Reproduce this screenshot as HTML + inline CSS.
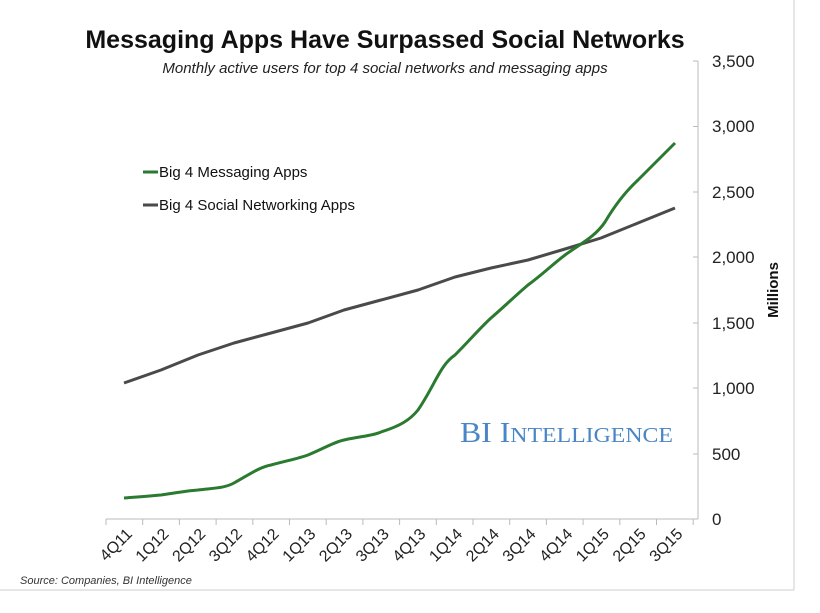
<!DOCTYPE html>
<html><head><style>
body{margin:0;background:#fff;}
svg text{font-family:"Liberation Sans",sans-serif;}
svg text.serif{font-family:"Liberation Serif",serif;}
</style></head><body>
<svg width="820" height="608" viewBox="0 0 820 608">
<rect x="0" y="0" width="820" height="608" fill="#fff"/>
<line x1="794" y1="0" x2="794" y2="590" stroke="#ccc"/>
<line x1="0" y1="590" x2="794" y2="590" stroke="#ccc"/>
<text x="385" y="48" text-anchor="middle" font-size="25" font-weight="bold" fill="#111">Messaging Apps Have Surpassed Social Networks</text>
<text x="385" y="73" text-anchor="middle" font-size="15" font-style="italic" fill="#222">Monthly active users for top 4 social networks and messaging apps</text>
<g stroke="#bbb" stroke-width="1">
<line x1="698" y1="61" x2="698" y2="519"/>
<line x1="693" y1="61" x2="698" y2="61"/><line x1="693" y1="126.5" x2="698" y2="126.5"/><line x1="693" y1="192" x2="698" y2="192"/><line x1="693" y1="257" x2="698" y2="257"/><line x1="693" y1="323" x2="698" y2="323"/><line x1="693" y1="388" x2="698" y2="388"/><line x1="693" y1="454" x2="698" y2="454"/>
<line x1="106" y1="519" x2="698" y2="519"/>
</g>
<g stroke="#bbb">
<line x1="106" y1="519" x2="106" y2="525"/><line x1="142.7" y1="519" x2="142.7" y2="525"/><line x1="179.4" y1="519" x2="179.4" y2="525"/><line x1="216.1" y1="519" x2="216.1" y2="525"/><line x1="252.8" y1="519" x2="252.8" y2="525"/><line x1="289.5" y1="519" x2="289.5" y2="525"/><line x1="326.2" y1="519" x2="326.2" y2="525"/><line x1="362.9" y1="519" x2="362.9" y2="525"/><line x1="399.6" y1="519" x2="399.6" y2="525"/><line x1="436.3" y1="519" x2="436.3" y2="525"/><line x1="473" y1="519" x2="473" y2="525"/><line x1="509.7" y1="519" x2="509.7" y2="525"/><line x1="546.4" y1="519" x2="546.4" y2="525"/><line x1="583.1" y1="519" x2="583.1" y2="525"/><line x1="619.8" y1="519" x2="619.8" y2="525"/><line x1="656.5" y1="519" x2="656.5" y2="525"/><line x1="693.2" y1="519" x2="693.2" y2="525"/>
</g>
<g font-size="17" fill="#222">
<text x="712" y="67">3,500</text><text x="712" y="132">3,000</text><text x="712" y="198">2,500</text><text x="712" y="263">2,000</text><text x="712" y="329">1,500</text><text x="712" y="394">1,000</text><text x="712" y="460">500</text><text x="712" y="525">0</text>
</g>
<text transform="translate(778,290) rotate(-90)" text-anchor="middle" font-size="15" font-weight="bold" fill="#111">Millions</text>
<g font-size="16" fill="#222" text-anchor="end">
<text transform="translate(133,535) rotate(-45)">4Q11</text>
<text transform="translate(169.7,535) rotate(-45)">1Q12</text>
<text transform="translate(206.4,535) rotate(-45)">2Q12</text>
<text transform="translate(243.1,535) rotate(-45)">3Q12</text>
<text transform="translate(279.8,535) rotate(-45)">4Q12</text>
<text transform="translate(316.5,535) rotate(-45)">1Q13</text>
<text transform="translate(353.2,535) rotate(-45)">2Q13</text>
<text transform="translate(389.9,535) rotate(-45)">3Q13</text>
<text transform="translate(426.6,535) rotate(-45)">4Q13</text>
<text transform="translate(463.3,535) rotate(-45)">1Q14</text>
<text transform="translate(500,535) rotate(-45)">2Q14</text>
<text transform="translate(536.7,535) rotate(-45)">3Q14</text>
<text transform="translate(573.4,535) rotate(-45)">4Q14</text>
<text transform="translate(610.1,535) rotate(-45)">1Q15</text>
<text transform="translate(646.8,535) rotate(-45)">2Q15</text>
<text transform="translate(683.5,535) rotate(-45)">3Q15</text>
</g>
<text x="20" y="584" font-size="11" font-style="italic" fill="#333">Source: Companies, BI Intelligence</text>
<text class="serif" x="460" y="442" font-size="28" fill="#4a86c5" textLength="213" lengthAdjust="spacingAndGlyphs">BI I<tspan font-size="21">NTELLIGENCE</tspan></text>
<polyline fill="none" stroke="#4a4a4a" stroke-width="3" stroke-linejoin="round" points="124,383 161,370 198,355 234,343 271,333 308,323 344,310 381,300 418,290 455,277 491,268 528,260 565,249 601,238 638,223 675,208"/>
<path fill="none" stroke="#2a7a30" stroke-width="3" stroke-linejoin="round" d="M124,498 C140,497 150,496 161,495 C175,493 185,491 198,490 C215,488 225,488 234,483 C250,474 260,467 271,465 C290,460 300,458 308,455 C325,448 334,442 344,440 C362,436 372,436 381,432 C400,426 410,420 418,410 C435,385 440,365 455,355 C470,340 480,328 491,318 C505,306 515,296 528,285 C543,274 553,264 565,255 C580,244 595,237 605,222 C615,205 625,192 638,180 C652,166 663,155 675,143"/>
<line x1="143" y1="172" x2="158" y2="172" stroke="#2a7a30" stroke-width="3"/>
<text x="159" y="177" font-size="15" fill="#111">Big 4 Messaging Apps</text>
<line x1="143" y1="205" x2="158" y2="205" stroke="#4a4a4a" stroke-width="3"/>
<text x="159" y="210" font-size="15" fill="#111">Big 4 Social Networking Apps</text>
</svg>
</body></html>
